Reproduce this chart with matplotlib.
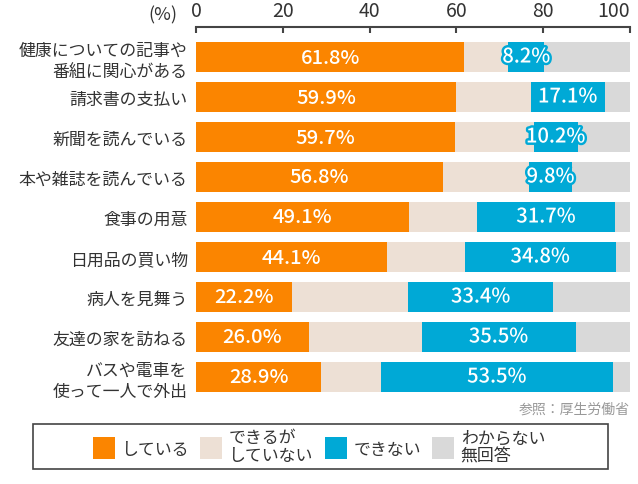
import numpy as np
import matplotlib.pyplot as plt
import matplotlib.patheffects as pe
from matplotlib.patches import Rectangle

plt.rcParams['font.family'] = ['Noto Sans CJK JP', 'DejaVu Sans']

categories = ['健康についての記事や\n番組に関心がある', '請求書の支払い', '新聞を読んでいる',
              '本や雑誌を読んでいる', '食事の用意', '日用品の買い物', '病人を見舞う',
              '友達の家を訪ねる', 'バスや電車を\n使って一人で外出']
doing = [61.8, 59.9, 59.7, 56.8, 49.1, 44.1, 22.2, 26.0, 28.9]
can_but_not = [10.2, 17.2, 18.1, 20.0, 15.7, 17.8, 26.7, 26.0, 13.7]
cannot = [8.2, 17.1, 10.2, 9.8, 31.7, 34.8, 33.4, 35.5, 53.5]
unknown = [19.8, 5.8, 12.0, 13.4, 3.5, 3.3, 17.7, 12.5, 3.9]
series_names = ['している', 'できるが\nしていない', 'できない', 'わからない\n無回答']
colors = ['#FB8500', '#EDE0D5', '#00A9D6', '#D9D9D9']
xticks = [0, 20, 40, 60, 80, 100]

fig = plt.figure(figsize=(6.38, 4.85), dpi=100)
ax = fig.add_axes([196 / 638, 1 - 398 / 485, 434 / 638, 370 / 485])

y = np.arange(len(categories))
series = [doing, can_but_not, cannot, unknown]
left = np.zeros(len(categories))
bars = []
for vals, col, name in zip(series, colors, series_names):
    b = ax.barh(y, vals, left=left, height=0.75, color=col, label=name, linewidth=0)
    bars.append(b)
    left = left + np.array(vals)

# value labels
for i in range(len(categories)):
    ax.text(doing[i] / 2, y[i], f'{doing[i]:.1f}%', ha='center', va='center',
            color='white', fontsize=14.5, fontweight='medium')
    cx = doing[i] + can_but_not[i] + cannot[i] / 2
    ax.text(cx, y[i], f'{cannot[i]:.1f}%', ha='center', va='center',
            color='white', fontsize=14.5, fontweight='medium',
            path_effects=[pe.withStroke(linewidth=3.5, foreground=colors[2])])

ax.set_xlim(0, 100)
ax.set_ylim(8.5, -0.75)
ax.set_yticks(y)
ax.set_yticklabels(categories, fontsize=12.2, color='#333333', linespacing=1.2)
ax.tick_params(axis='y', length=0, pad=6)
ax.xaxis.tick_top()
ax.set_xticks(xticks)
ax.set_xticklabels([str(t) for t in xticks], fontsize=14, color='#333333')
ax.get_xticklabels()[-1].set_horizontalalignment('right')
ax.tick_params(axis='x', direction='in', length=4, width=1.5, color='#444444', pad=4)
for s in ['left', 'right', 'bottom']:
    ax.spines[s].set_visible(False)
ax.spines['top'].set_color('#444444')
ax.spines['top'].set_linewidth(1.5)

fig.text(163 / 638, 1 - 15 / 485, '(%)', ha='center', va='center', fontsize=13, color='#333333')
fig.text(630 / 638, 1 - 410 / 485, '参照：厚生労働省', ha='right', va='center',
         fontsize=10, color='#999999')

# legend frame drawn separately (wider than the entries)
fig.add_artist(Rectangle((33 / 638, 1 - 470 / 485), 575 / 638, 45 / 485,
                         transform=fig.transFigure, fill=False,
                         edgecolor='#444444', linewidth=1.2))
leg = fig.legend(handles=bars, labels=series_names, loc='center',
                 bbox_to_anchor=(319 / 638, 1 - 447.5 / 485), ncol=4, fontsize=12.2,
                 frameon=False, handlelength=1.3, handleheight=1.55, handletextpad=0.4,
                 columnspacing=0.65, borderpad=0.2, labelspacing=0.2)
for t in leg.get_texts():
    t.set_color('#333333')
    t.set_linespacing(1.0)

fig.savefig('out.png', dpi=100)
